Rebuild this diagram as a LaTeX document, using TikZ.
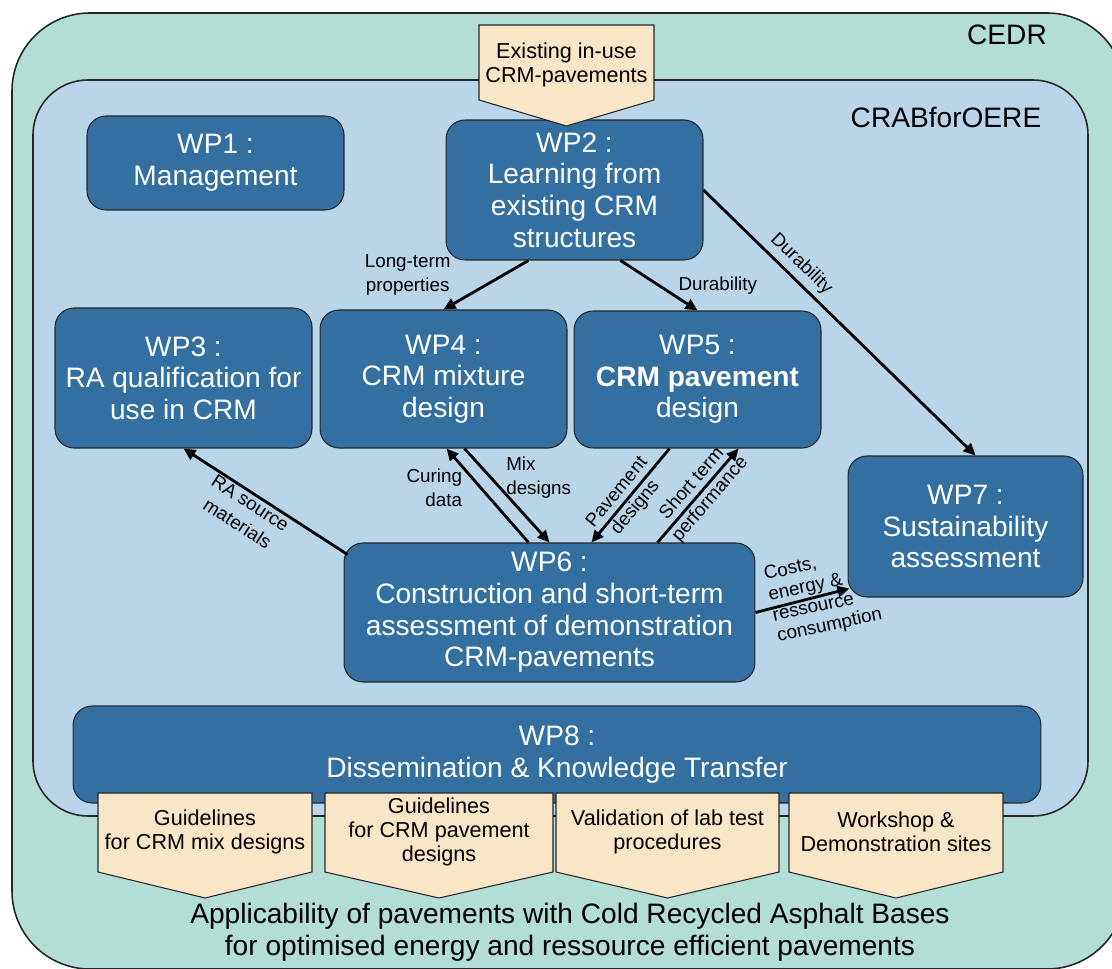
\documentclass[tikz,border=0pt]{standalone}
\usepackage{fontspec}
\setmainfont{Liberation Sans}
\usetikzlibrary{arrows.meta,positioning,calc}
\definecolor{cedrgreen}{HTML}{B3DED5}
\definecolor{crabblue}{HTML}{B9D5EA}
\definecolor{wpblue}{HTML}{336FA0}
\definecolor{delivfill}{HTML}{F8E6C6}
\tikzset{
  wp/.style={draw=black!85, line width=0.6pt, fill=wpblue, rounded corners=0.38cm, text=white,
             align=center, inner sep=0pt, font=\fontsize{16}{18}\selectfont},
  frame/.style={draw=black!85, line width=0.9pt, rounded corners=#1},
  arr/.style={-{Triangle[length=2.4mm,width=2.2mm]}, line width=1.6pt},
  lab/.style={font=\fontsize{10.7}{13.6}\selectfont, align=center, inner sep=1pt},
  delivtext/.style={font=\fontsize{12.3}{13.8}\selectfont, align=center, inner sep=0pt},
  delivshape/.style={draw=black!85, line width=0.6pt, fill=delivfill},
  title/.style={font=\fontsize{16}{18}\selectfont, align=center},
}

\begin{document}
\begin{tikzpicture}[x=0.02cm, y=-0.02cm]
  \useasboundingbox (0,0) rectangle (1112,969);
  \clip (0,0) rectangle (1112,969);
  % frames
  \draw[frame=1.56cm, fill=cedrgreen] (12,13) rectangle (1125,969);
  \draw[frame=1.1cm, fill=crabblue] (33,80) rectangle (1088,816);
  \node[title] (cedr) at (1007,35) {CEDR};
  \node[title] (crab) at (946,117) {CRABforOERE};

  % work packages
  \node[wp, minimum width=5.14cm, minimum height=1.88cm] (wp1) at (215.5,163) {WP1 :\\Management};
  \node[wp, minimum width=5.14cm, minimum height=2.8cm] (wp2) at (574.5,190) {WP2 :\\Learning from\\existing CRM\\structures};
  \node[wp, minimum width=5.14cm, minimum height=2.8cm] (wp3) at (183.5,378) {WP3 :\\RA qualification for\\use in CRM};
  \node[wp, minimum width=4.94cm, minimum height=2.76cm] (wp4) at (443.5,379) {WP4 :\\CRM mixture\\design};
  \node[wp, minimum width=4.94cm, minimum height=2.74cm] (wp5) at (697.5,379.5) {WP5 :\\\textbf{CRM pavement}\\design};
  \node[wp, minimum width=8.22cm, minimum height=2.78cm] (wp6) at (549.5,612.5) {WP6 :\\Construction and short-term\\assessment of demonstration\\CRM-pavements};
  \node[wp, minimum width=4.7cm, minimum height=2.82cm] (wp7) at (965.5,526.5) {WP7 :\\Sustainability\\assessment};
  \node[wp, minimum width=19.36cm, minimum height=1.94cm] (wp8) at (557,754.5) {WP8 :\\Dissemination \& Knowledge Transfer};

  % input and deliverables
  \draw[delivshape] (479,25) -- (654,25) -- (654,100) -- (566.5,126) -- (479,100) -- cycle;
  \node[delivtext] (exist) at (566.5,65) {Existing in-use\\CRM-pavements};
  \foreach \n/\xl/\xr/\txt in {d1/98/312/{Guidelines\\for CRM mix designs},
      d2/325/553/{Guidelines\\for CRM pavement\\designs},
      d3/556/779/{Validation of lab test\\procedures},
      d4/789/1003/{Workshop \&\\Demonstration sites}}{
    \draw[delivshape] (\xl,793) -- (\xr,793) -- (\xr,872) -- ({(\xl+\xr)/2},898) -- (\xl,872) -- cycle;
    \node[delivtext] (\n) at ({(\xl+\xr)/2},832) {\txt};
  }
  \node[title] (goal) at (570,932) {Applicability of pavements with Cold Recycled Asphalt Bases\\for optimised energy and ressource efficient pavements};

  % flows
  \draw[arr] ($(wp2.south)+(-46,0)$) -- (wp4.north)
    node[lab, pos=0.88, anchor=south east, yshift=3pt] {Long-term\\properties};
  \draw[arr] ($(wp2.south)+(46,0)$) -- (wp5.north)
    node[lab, pos=0.6, anchor=west, xshift=5pt, yshift=3pt] {Durability};
  \draw[arr] (wp2.east) -- ($(wp7.north)+(10,0)$)
    node[lab, sloped, pos=0.32, above=2pt] {Durability};
  \draw[arr] ($(wp6.north west)+(4,12)$) -- (wp3.south)
    node[lab, sloped, pos=0.56, below] {RA source\\materials};
  \draw[arr] ($(wp6.north)+(-21,0)$) -- ($(wp4.south)+(3,0)$)
    node[lab, align=right, pos=0.58, left=9pt] {Curing\\data};
  \draw[arr] ($(wp4.south)+(21,0)$) -- (wp6.north)
    node[lab, align=left, pos=0.31, right=7pt] {Mix\\designs};
  \draw[arr] ($(wp5.south)+(-28,0)$) -- ($(wp6.north)+(42,0)$)
    node[lab, sloped, pos=0.55] {Pavement\\designs};
  \draw[arr] ($(wp6.north)+(108,0)$) -- ($(wp5.south)+(41,0)$)
    node[lab, sloped, pos=0.54] {Short term\\performance};
  \draw[arr] (wp6.east) -- ($(wp7.south west)+(2,-9)$)
    node[lab, pos=0.72, rotate=12, align=left, font=\fontsize{10.7}{12}\selectfont] {Costs,\\energy \&\\ressource\\consumption};
\end{tikzpicture}
\end{document}
